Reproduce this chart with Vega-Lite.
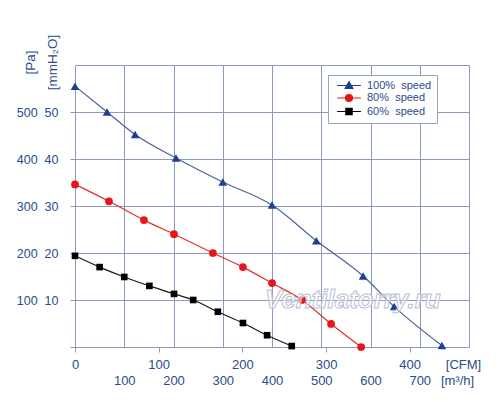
{
  "$schema": "https://vega.github.io/schema/vega-lite/v6.json",
  "width": 394,
  "height": 282,
  "autosize": {"type": "none"},
  "padding": {"left": 75, "top": 65, "right": 31, "bottom": 55},
  "background": "white",
  "config": {
    "font": "Liberation Sans",
    "view": {"stroke": null},
    "axis": {
      "labelFont": "Liberation Sans",
      "titleFont": "Liberation Sans",
      "labelColor": "#2b4c8c",
      "titleColor": "#2b4c8c",
      "gridColor": "#8c9bbd",
      "gridOpacity": 1,
      "gridWidth": 1,
      "tickColor": "#8c9bbd",
      "domainColor": "#8c9bbd",
      "titleFontWeight": "normal"
    }
  },
  "datasets": {
    "curves": [
      {"series": "100% speed", "m3h": 0, "pa": 555},
      {"series": "100% speed", "m3h": 65, "pa": 500},
      {"series": "100% speed", "m3h": 122, "pa": 452},
      {"series": "100% speed", "m3h": 205, "pa": 402},
      {"series": "100% speed", "m3h": 300, "pa": 351},
      {"series": "100% speed", "m3h": 400, "pa": 302},
      {"series": "100% speed", "m3h": 490, "pa": 226},
      {"series": "100% speed", "m3h": 585, "pa": 151},
      {"series": "100% speed", "m3h": 648, "pa": 86},
      {"series": "100% speed", "m3h": 745, "pa": 3},
      {"series": "80% speed", "m3h": 0, "pa": 346},
      {"series": "80% speed", "m3h": 69, "pa": 310},
      {"series": "80% speed", "m3h": 140, "pa": 270},
      {"series": "80% speed", "m3h": 201, "pa": 240},
      {"series": "80% speed", "m3h": 280, "pa": 200},
      {"series": "80% speed", "m3h": 341, "pa": 170},
      {"series": "80% speed", "m3h": 400, "pa": 136},
      {"series": "80% speed", "m3h": 461, "pa": 100},
      {"series": "80% speed", "m3h": 520, "pa": 49},
      {"series": "80% speed", "m3h": 581, "pa": 0},
      {"series": "60% speed", "m3h": 0, "pa": 194},
      {"series": "60% speed", "m3h": 50, "pa": 170},
      {"series": "60% speed", "m3h": 100, "pa": 149},
      {"series": "60% speed", "m3h": 151, "pa": 130},
      {"series": "60% speed", "m3h": 201, "pa": 113},
      {"series": "60% speed", "m3h": 240, "pa": 100},
      {"series": "60% speed", "m3h": 290, "pa": 75},
      {"series": "60% speed", "m3h": 341, "pa": 51},
      {"series": "60% speed", "m3h": 390, "pa": 25},
      {"series": "60% speed", "m3h": 440, "pa": 2}
    ],
    "watermark": [
      {"cfm": 332, "pa": 100, "text": "Ventilatorry.ru"}
    ]
  },
  "layer": [
    {
      "data": {"name": "curves"},
      "encoding": {
        "x": {
          "field": "m3h",
          "type": "quantitative",
          "scale": {"domain": [0, 800], "nice": false},
          "axis": {
            "orient": "bottom",
            "values": [0, 100, 200, 300, 400, 500, 600, 700, 800],
            "grid": true,
            "domain": false,
            "ticks": false,
            "labelFlush": false,
            "labelPadding": 27,
            "labelFontSize": 13,
            "labelExpr": "datum.value > 0 && datum.value < 800 ? datum.label : ''",
            "title": "[m³/h]",
            "titleX": 382,
            "titleY": 27,
            "titleAlign": "center",
            "titleBaseline": "top",
            "titleFontSize": 13
          }
        },
        "y": {
          "field": "pa",
          "type": "quantitative",
          "scale": {"domain": [0, 600], "nice": false},
          "axis": {
            "values": [0, 50, 100, 150, 200, 250, 300, 350, 400, 450, 500, 550, 600],
            "grid": true,
            "domain": false,
            "tickSize": 5,
            "tickOpacity": {"condition": {"test": "datum.value % 100 === 0 && datum.value < 600", "value": 1}, "value": 0},
            "labelPadding": 12,
            "labelFontSize": 12.5,
            "labelExpr": "datum.value % 100 === 0 && datum.value > 0 && datum.value < 600 ? datum.value + '\u00a0\u00a0' + (datum.value / 10) : ''",
            "title": ["[Pa]", "[mmH₂O]"],
            "titleAngle": -90,
            "titleX": -45,
            "titleY": -3,
            "titleAlign": "center",
            "titleBaseline": "middle",
            "titleLineHeight": 22,
            "titleFontSize": 13.5
          }
        }
      },
      "layer": [
        {
          "transform": [{"filter": "datum.series === '100% speed'"}],
          "mark": {"type": "line", "interpolate": "monotone", "strokeWidth": 1.2, "color": "#4a6296"}
        },
        {
          "transform": [{"filter": "datum.series === '80% speed'"}],
          "mark": {"type": "line", "interpolate": "monotone", "strokeWidth": 1.2, "color": "#e0302f"}
        },
        {
          "transform": [{"filter": "datum.series === '60% speed'"}],
          "mark": {"type": "line", "interpolate": "monotone", "strokeWidth": 1.2, "color": "#1a1a1a"}
        },
        {
          "transform": [{"filter": "datum.series === '100% speed'"}],
          "mark": {"type": "point", "filled": true, "opacity": 1, "shape": "triangle-up", "size": 75, "color": "#1f3f95"}
        },
        {
          "transform": [{"filter": "datum.series === '80% speed'"}],
          "mark": {"type": "point", "filled": true, "opacity": 1, "shape": "circle", "size": 60, "color": "#e8141c"}
        },
        {
          "transform": [{"filter": "datum.series === '60% speed'"}],
          "mark": {"type": "point", "filled": true, "opacity": 1, "shape": "square", "size": 44, "color": "#000000"}
        },
        {
          "transform": [{"filter": "false"}],
          "mark": {"type": "point", "filled": true, "opacity": 1, "strokeWidth": 1.2},
          "encoding": {
            "color": {
              "field": "series",
              "type": "nominal",
              "scale": {"domain": ["100% speed", "80% speed", "60% speed"], "range": ["#1f3f95", "#e8141c", "#000000"]},
              "legend": {
                "orient": "none",
                "legendX": 253,
                "legendY": 10,
                "title": null,
                "padding": 5,
                "fillColor": "white",
                "strokeColor": "#9aa5c0",
                "labelFont": "Liberation Sans",
                "labelFontSize": 11,
                "labelColor": "#2b4c8c",
                "symbolSize": 49,
                "symbolOffset": 10.5,
                "labelOffset": 12.5,
                "rowPadding": 0.5,
                "symbolStrokeWidth": 1.2,
                "symbolOpacity": 1,
                "labelExpr": "replace(datum.label, ' ', '\u00a0 ')"
              }
            },
            "stroke": {
              "field": "series",
              "type": "nominal",
              "scale": {"domain": ["100% speed", "80% speed", "60% speed"], "range": ["#1f3f95", "#e8141c", "#000000"]}
            },
            "shape": {
              "field": "series",
              "type": "nominal",
              "scale": {
                "domain": ["100% speed", "80% speed", "60% speed"],
                "range": [
                  "M-3.4,0H3.4M0,-1.1L1.1,0.8L-1.1,0.8Z",
                  "M-3.4,0H3.4M-1,0A1,1 0 1,0 1,0A1,1 0 1,0 -1,0Z",
                  "M-3.4,0H3.4M-0.9,-0.9H0.9V0.9H-0.9Z"
                ]
              }
            }
          }
        }
      ]
    },
    {
      "data": {"name": "watermark"},
      "mark": {
        "type": "text",
        "font": "Liberation Sans",
        "fontSize": 26,
        "fontStyle": "italic",
        "fontWeight": "bold",
        "fill": "white",
        "fillOpacity": 0.55,
        "stroke": "#b9c0d2",
        "strokeWidth": 1,
        "align": "center",
        "baseline": "middle"
      },
      "encoding": {
        "x": {
          "field": "cfm",
          "type": "quantitative",
          "scale": {"domain": [0, 470.86], "nice": false},
          "axis": {
            "orient": "bottom",
            "values": [0, 100, 200, 300, 400],
            "grid": false,
            "tickSize": 5,
            "labelFlush": false,
            "labelPadding": 6,
            "labelFontSize": 13,
            "title": "[CFM]",
            "titleX": 388,
            "titleY": 11,
            "titleAlign": "center",
            "titleBaseline": "top",
            "titleFontSize": 13
          }
        },
        "y": {"field": "pa", "type": "quantitative"},
        "text": {"field": "text"}
      }
    }
  ],
  "resolve": {"scale": {"x": "independent"}}
}
